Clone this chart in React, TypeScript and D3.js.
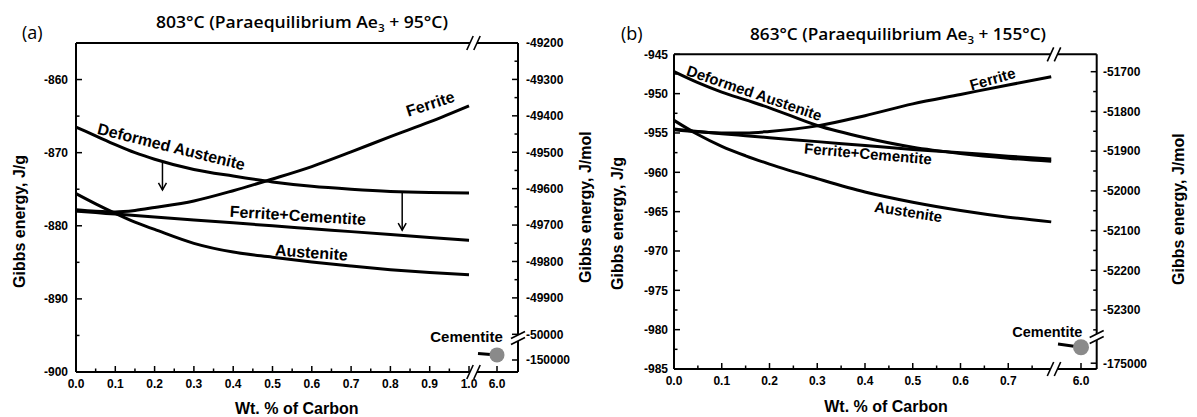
import React from 'react';
import * as d3 from 'd3';

// ---------------- DATA ----------------
// Panel (a): 803°C
const carbonA = [0, 0.05, 0.1, 0.15, 0.2, 0.3, 0.4, 0.5, 0.6, 0.7, 0.8, 0.9, 1.0];
const deformedAusteniteA = [-866.5, -867.7, -868.9, -870.0, -870.9, -872.3, -873.2, -874.0, -874.6, -875.0, -875.3, -875.45, -875.5];
const ferriteA = [-877.8, -878.0, -878.1, -877.9, -877.5, -876.6, -875.2, -873.6, -871.9, -869.9, -867.8, -865.8, -863.6];
const ferriteCementiteA = [-878.0, -878.2, -878.4, -878.6, -878.8, -879.2, -879.6, -880.0, -880.4, -880.8, -881.2, -881.6, -882.0];
const austeniteA = [-875.6, -877.0, -878.3, -879.5, -880.5, -882.4, -883.6, -884.3, -884.95, -885.5, -886.0, -886.4, -886.7];
const cementiteCarbonA = [5.81, 6.0];
const cementiteEnergyA = [-149780, -149830]; // J/mol
const arrowCarbonA = [0.22, 0.83];
const arrowFromA = [-871.3, -875.4];
const arrowToA = [-875.1, -880.6];

const xMajorA = [0, 0.1, 0.2, 0.3, 0.4, 0.5, 0.6, 0.7, 0.8, 0.9, 1.0];
const xMinorA = [0.05, 0.15, 0.25, 0.35, 0.45, 0.55, 0.65, 0.75, 0.85, 0.95];
const yLeftMajorA = [-900, -890, -880, -870, -860];
const yLeftMinorA = [-895, -885, -875, -865];
const yRightMajorA = [-50000, -49900, -49800, -49700, -49600, -49500, -49400, -49300, -49200];
const yRightMinorA = [-49950, -49850, -49750, -49650, -49550, -49450, -49350, -49250];
const yRightLowerA = [-150000];

// Panel (b): 863°C
const carbonB = [0, 0.05, 0.1, 0.15, 0.2, 0.3, 0.4, 0.5, 0.6, 0.7, 0.79];
const deformedAusteniteB = [-947.2, -948.6, -949.8, -950.8, -951.8, -954.05, -955.6, -956.8, -957.6, -958.2, -958.6];
const ferriteB = [-954.6, -954.85, -955.0, -955.0, -954.8, -954.1, -952.8, -951.3, -950.1, -948.9, -947.85];
const ferriteCementiteB = [-954.5, -954.8, -955.1, -955.35, -955.6, -956.1, -956.6, -957.1, -957.5, -957.95, -958.3];
const austeniteB = [-953.4, -955.2, -956.7, -957.9, -958.95, -960.8, -962.5, -963.8, -964.85, -965.7, -966.3];
const cementiteCarbonB = [5.77, 6.0];
const cementiteEnergyB = [-174340, -174450]; // J/mol

const xMajorB = [0, 0.1, 0.2, 0.3, 0.4, 0.5, 0.6, 0.7];
const xMinorB = [0.05, 0.15, 0.25, 0.35, 0.45, 0.55, 0.65, 0.75];
const yLeftMajorB = [-985, -980, -975, -970, -965, -960, -955, -950, -945];
const yLeftMinorB = [-982.5, -977.5, -972.5, -967.5, -962.5, -957.5, -952.5, -947.5];
const yRightMajorB = [-52300, -52200, -52100, -52000, -51900, -51800, -51700];
const yRightMinorB = [-52350, -52250, -52150, -52050, -51950, -51850, -51750];
const yRightLowerB = [-175000];

const xSecTicks = [6.0];

// ---------------- STYLE ----------------
const FONT = "'Liberation Sans', Arial, Helvetica, sans-serif";
const TITLE_FONT = "'Open Sans', 'Noto Sans', sans-serif";

type Label = { text: string; x: number; y: number; rot: number; size: number };

type Cfg = {
  l: number; r: number; t: number; b: number;
  xMain: d3.ScaleLinear<number, number>;
  xSec: d3.ScaleLinear<number, number>;
  xBreak: number;
  yLeft: d3.ScaleLinear<number, number>;
  yRU: d3.ScaleLinear<number, number>;
  yRL: d3.ScaleLinear<number, number>;
  yBreak: number;
  carbon: number[];
  series: number[][];
  cemC: number[]; cemE: number[];
  xMajor: number[]; xMinor: number[];
  yLMajor: number[]; yLMinor: number[];
  yRMajor: number[]; yRMinor: number[]; yRLower: number[];
  labelGapL: number; labelGapR: number;
  labels: Label[];
  cemLabel: { x: number; y: number; size: number };
  panelTag: { text: string; x: number; y: number };
  title: { main: string; tail: string; x: number; y: number; len: number };
  yLabelL: { x: number; y: number };
  yLabelR: { x: number; y: number };
  xLabel: { x: number; y: number };
  arrows?: { c: number[]; from: number[]; to: number[] };
  circleR: number;
};

function XBreak({ x, y }: { x: number; y: number }) {
  const gap = 3.5;
  const dx = 3.2, dy = 7;
  return (
    <g>
      <rect x={x - gap} y={y - 2} width={gap * 2} height={4} fill="white" />
      <line x1={x - gap - dx} y1={y + dy} x2={x - gap + dx} y2={y - dy} stroke="black" strokeWidth={1.6} />
      <line x1={x + gap - dx} y1={y + dy} x2={x + gap + dx} y2={y - dy} stroke="black" strokeWidth={1.6} />
    </g>
  );
}

function YBreak({ x, y }: { x: number; y: number }) {
  const gap = 3;
  const dx = 7, dy = 3.5;
  return (
    <g>
      <rect x={x - 2} y={y - gap} width={4} height={gap * 2} fill="white" />
      <line x1={x - dx} y1={y - gap + dy} x2={x + dx} y2={y - gap - dy} stroke="black" strokeWidth={1.6} />
      <line x1={x - dx} y1={y + gap + dy} x2={x + dx} y2={y + gap - dy} stroke="black" strokeWidth={1.6} />
    </g>
  );
}

function Panel({ cfg }: { cfg: Cfg }) {
  const { l, r, t, b, xMain, xSec, yLeft, yRU, yRL } = cfg;
  const line = d3
    .line<[number, number]>()
    .x((d) => xMain(d[0]))
    .y((d) => yLeft(d[1]))
    .curve(d3.curveMonotoneX);
  const MAJ = 6, MIN = 3.5;
  const fmtX = d3.format('.1f');
  const cemPts = cfg.cemC.map((c, i) => [xSec(c), yRL(cfg.cemE[i])] as [number, number]);
  const last = cemPts[cemPts.length - 1];

  return (
    <g>
      {/* frame */}
      <g stroke="black" strokeWidth={2} fill="none">
        <line x1={l} y1={t} x2={r} y2={t} />
        <line x1={l} y1={b} x2={r} y2={b} />
        <line x1={l} y1={t} x2={l} y2={b} />
        <line x1={r} y1={t} x2={r} y2={b} />
      </g>
      {/* ticks */}
      <g stroke="black" strokeWidth={1.5}>
        {cfg.xMajor.map((v) => (
          <line key={'xM' + v} x1={xMain(v)} x2={xMain(v)} y1={b} y2={b - MAJ} />
        ))}
        {cfg.xMinor.map((v) => (
          <line key={'xm' + v} x1={xMain(v)} x2={xMain(v)} y1={b} y2={b - MIN} />
        ))}
        {xSecTicks.map((v) => (
          <line key={'xs' + v} x1={xSec(v)} x2={xSec(v)} y1={b} y2={b - MAJ} />
        ))}
        {cfg.yLMajor.map((v) => (
          <line key={'yLM' + v} x1={l} x2={l + MAJ} y1={yLeft(v)} y2={yLeft(v)} />
        ))}
        {cfg.yLMinor.map((v) => (
          <line key={'yLm' + v} x1={l} x2={l + MIN} y1={yLeft(v)} y2={yLeft(v)} />
        ))}
        {cfg.yRMajor.map((v) => (
          <line key={'yRM' + v} x1={r} x2={r - MAJ} y1={yRU(v)} y2={yRU(v)} />
        ))}
        {cfg.yRMinor.map((v) => (
          <line key={'yRm' + v} x1={r} x2={r - MIN} y1={yRU(v)} y2={yRU(v)} />
        ))}
        {cfg.yRLower.map((v) => (
          <line key={'yRL' + v} x1={r} x2={r - MAJ} y1={yRL(v)} y2={yRL(v)} />
        ))}
      </g>
      {/* tick labels */}
      <g fontFamily={FONT} fontWeight="bold" fontSize={12} fill="black">
        {cfg.xMajor.map((v) => (
          <text key={'xl' + v} x={xMain(v)} y={b + 16} textAnchor="middle">{fmtX(v)}</text>
        ))}
        {xSecTicks.map((v) => (
          <text key={'xsl' + v} x={xSec(v)} y={b + 16} textAnchor="middle">{fmtX(v)}</text>
        ))}
        {cfg.yLMajor.map((v) => (
          <text key={'yll' + v} x={l - cfg.labelGapL} y={yLeft(v) + 4.3} textAnchor="end">{String(v)}</text>
        ))}
        {cfg.yRMajor.map((v) => (
          <text key={'yrl' + v} x={r + cfg.labelGapR} y={yRU(v) + 4.3} textAnchor="start">{String(v)}</text>
        ))}
        {cfg.yRLower.map((v) => (
          <text key={'yrll' + v} x={r + cfg.labelGapR} y={yRL(v) + 4.3} textAnchor="start">{String(v)}</text>
        ))}
      </g>
      {/* curves */}
      <g fill="none" stroke="black" strokeWidth={3} strokeLinecap="butt">
        {cfg.series.map((s, i) => (
          <path key={'s' + i} d={line(cfg.carbon.map((c, j) => [c, s[j]] as [number, number])) || ''} />
        ))}
      </g>
      {/* arrows */}
      {cfg.arrows &&
        cfg.arrows.c.map((c, i) => {
          const x = xMain(c);
          const y1 = yLeft(cfg.arrows!.from[i]);
          const y2 = yLeft(cfg.arrows!.to[i]);
          return (
            <g key={'a' + i} stroke="black" strokeWidth={1.5} fill="none">
              <line x1={x} x2={x} y1={y1} y2={y2} />
              <polyline points={`${x - 4},${y2 - 7} ${x},${y2} ${x + 4},${y2 - 7}`} />
            </g>
          );
        })}
      {/* cementite */}
      <path d={d3.line()(cemPts) || ''} stroke="black" strokeWidth={3} fill="none" />
      <circle cx={last[0]} cy={last[1]} r={cfg.circleR} fill="#8a8a8a" />
      <text x={cfg.cemLabel.x} y={cfg.cemLabel.y} fontFamily={FONT} fontWeight="bold" fontSize={cfg.cemLabel.size} textAnchor="middle">
        Cementite
      </text>
      {/* breaks */}
      <XBreak x={cfg.xBreak} y={t} />
      <XBreak x={cfg.xBreak} y={b} />
      <YBreak x={r} y={cfg.yBreak} />
      {/* curve labels */}
      <g fontFamily={FONT} fontWeight="bold" fill="black">
        {cfg.labels.map((lb, i) => (
          <text key={'lb' + i} fontSize={lb.size} textAnchor="middle" transform={`translate(${lb.x},${lb.y}) rotate(${lb.rot})`}>
            {lb.text}
          </text>
        ))}
      </g>
      {/* axis titles */}
      <g fontFamily={FONT} fontWeight="bold" fontSize={16} fill="black">
        <text transform={`translate(${cfg.yLabelL.x},${cfg.yLabelL.y}) rotate(-90)`} textAnchor="start">Gibbs energy, J/g</text>
        <text transform={`translate(${cfg.yLabelR.x},${cfg.yLabelR.y}) rotate(-90)`} textAnchor="start">Gibbs energy, J/mol</text>
        <text x={cfg.xLabel.x} y={cfg.xLabel.y} textAnchor="middle">Wt. % of Carbon</text>
      </g>
      {/* panel tag & title */}
      <text x={cfg.panelTag.x} y={cfg.panelTag.y} fontFamily={TITLE_FONT} fontSize={18} fill="black">{cfg.panelTag.text}</text>
      <text x={cfg.title.x} y={cfg.title.y} fontFamily={TITLE_FONT} fontWeight={600} fontSize={16.5} fill="black"
        textLength={cfg.title.len} lengthAdjust="spacingAndGlyphs">
        {cfg.title.main}
        <tspan dy={4} fontSize={11}>3</tspan>
        <tspan dy={-4}>{cfg.title.tail}</tspan>
      </text>
    </g>
  );
}

const cfgA: Cfg = {
  l: 76, r: 518, t: 43, b: 372,
  xMain: d3.scaleLinear().domain([0, 1]).range([76, 469]),
  xSec: d3.scaleLinear().domain([5.8, 6.2]).range([477, 517]),
  xBreak: 473.5,
  yLeft: d3.scaleLinear().domain([-900, -855]).range([372, 43]),
  yRU: d3.scaleLinear().domain([-50000, -49200]).range([334.3, 43]),
  yRL: d3.scaleLinear().domain([-150400, -149400]).range([372, 342]),
  yBreak: 338,
  carbon: carbonA,
  series: [deformedAusteniteA, ferriteA, ferriteCementiteA, austeniteA],
  cemC: cementiteCarbonA, cemE: cementiteEnergyA,
  xMajor: xMajorA, xMinor: xMinorA,
  yLMajor: yLeftMajorA, yLMinor: yLeftMinorA,
  yRMajor: yRightMajorA, yRMinor: yRightMinorA, yRLower: yRightLowerA,
  labelGapL: 8, labelGapR: 8,
  labels: [
    { text: 'Deformed Austenite', x: 170, y: 152, rot: 14, size: 16 },
    { text: 'Ferrite', x: 432, y: 109, rot: -18, size: 16 },
    { text: 'Ferrite+Cementite', x: 297.5, y: 221, rot: 3.5, size: 16 },
    { text: 'Austenite', x: 311, y: 258, rot: 4, size: 16 },
  ],
  cemLabel: { x: 466.5, y: 341.7, size: 15 },
  panelTag: { text: '(a)', x: 22, y: 39 },
  title: { main: '803°C (Paraequilibrium Ae', tail: ' + 95°C)', x: 156, y: 28, len: 292 },
  yLabelL: { x: 25, y: 288 },
  yLabelR: { x: 591, y: 283 },
  xLabel: { x: 296.7, y: 413.5 },
  arrows: { c: arrowCarbonA, from: arrowFromA, to: arrowToA },
  circleR: 7.5,
};

const cfgB: Cfg = {
  l: 674, r: 1096.7, t: 54.3, b: 369,
  xMain: d3.scaleLinear().domain([0, 0.1]).range([674, 721.75]),
  xSec: d3.scaleLinear().domain([5.76, 6.16]).range([1057, 1097]),
  xBreak: 1054,
  yLeft: d3.scaleLinear().domain([-985, -945]).range([369, 54.3]),
  yRU: d3.scaleLinear().domain([-52300, -51700]).range([310, 71.7]),
  yRL: d3.scaleLinear().domain([-175200, -174200]).range([369, 340]),
  yBreak: 337,
  carbon: carbonB,
  series: [deformedAusteniteB, ferriteB, ferriteCementiteB, austeniteB],
  cemC: cementiteCarbonB, cemE: cementiteEnergyB,
  xMajor: xMajorB, xMinor: xMinorB,
  yLMajor: yLeftMajorB, yLMinor: yLeftMinorB,
  yRMajor: yRightMajorB, yRMinor: yRightMinorB, yRLower: yRightLowerB,
  labelGapL: 6, labelGapR: 6.3,
  labels: [
    { text: 'Deformed Austenite', x: 752.5, y: 98, rot: 19, size: 15 },
    { text: 'Ferrite', x: 994, y: 84, rot: -16, size: 15 },
    { text: 'Ferrite+Cementite', x: 867.5, y: 159, rot: 5, size: 15 },
    { text: 'Austenite', x: 907.5, y: 217, rot: 9, size: 15 },
  ],
  cemLabel: { x: 1047.3, y: 337.3, size: 14.5 },
  panelTag: { text: '(b)', x: 621, y: 40 },
  title: { main: '863°C (Paraequilibrium Ae', tail: ' + 155°C)', x: 750, y: 39.5, len: 296 },
  yLabelL: { x: 623, y: 290 },
  yLabelR: { x: 1184, y: 285 },
  xLabel: { x: 886, y: 411.7 },
  circleR: 8,
};

export default function App() {
  return (
    <svg width={1197} height={417} viewBox="0 0 1197 417" style={{ position: 'absolute', left: 0, top: 0, background: 'white' }}>
      <rect x={0} y={0} width={1197} height={417} fill="white" />
      <Panel cfg={cfgA} />
      <Panel cfg={cfgB} />
    </svg>
  );
}
